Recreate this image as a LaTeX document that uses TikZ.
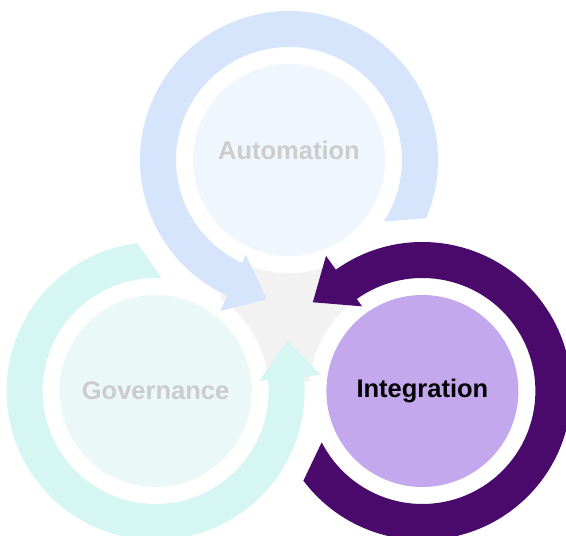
\documentclass[tikz,border=0pt]{standalone}
\usepackage{fontspec}
\setmainfont{Liberation Sans}
\usepackage{tikz}

\definecolor{autoring}{HTML}{D6E5FB}
\definecolor{autofill}{HTML}{F0F6FE}
\definecolor{govring}{HTML}{D6F6F3}
\definecolor{govfill}{HTML}{EBF8F8}
\definecolor{intring}{HTML}{4A0A6B}
\definecolor{intfill}{HTML}{C3A8EE}
\definecolor{fadetext}{HTML}{CCCCCC}
\definecolor{hub}{HTML}{F2F2F2}

% ring arrow round a centre: #1 centre, #2 turn, #3 colour
\newcommand{\ringarrow}[3]{%
  \fill[#3, shift={(#1)}, rotate=#2]
    (-23:149) arc[start angle=-23, end angle=245.5, radius=149]
    -- (245.5:166) -- (261:141) -- (245.5:104) -- (245.5:113)
    arc[start angle=245.5, end angle=-33, radius=113] -- cycle;}

\tikzset{
  stage/.style={shape=circle, minimum size=192pt, inner sep=0pt,
    font=\fontsize{25.5}{30}\selectfont\bfseries}
}

\begin{document}
\begin{tikzpicture}[x=1pt,y=1pt]
        \useasboundingbox (0,0) rectangle (566,536);
        \coordinate (ca) at (289,376);
        \coordinate (cg) at (155.6,145);
        \coordinate (ci) at (422.4,145);

        %hub and white rims
        \fill[hub] (289,222) circle[radius=70];
        \fill[white] (ca) circle[radius=113];
        \fill[white] (cg) circle[radius=113];
        \fill[white] (ci) circle[radius=113];

        %ring arrows
        \ringarrow{ca}{0}{autoring}
        \ringarrow{cg}{120}{govring}
        \ringarrow{ci}{240}{intring}

        \node[stage,fill=autofill] (a) at (ca) {};
        \node[stage,fill=govfill,text=fadetext] (g) at (cg) {Governance};
        \node[stage,fill=intfill,text=black] (i) at (ci) {Integration};
        \node[stage,minimum size=0pt,text=fadetext] (ta) at ([yshift=10pt]a.center) {Automation};
\end{tikzpicture}
\end{document}
